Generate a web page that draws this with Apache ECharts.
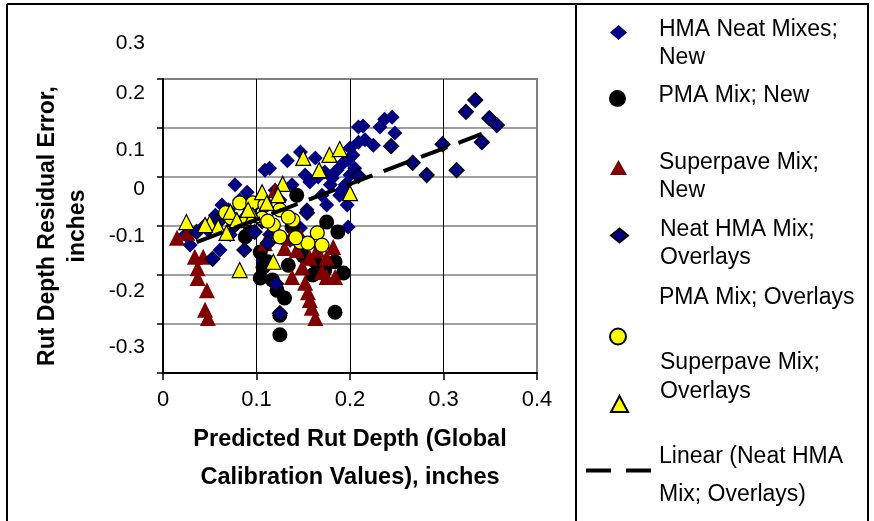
<!DOCTYPE html>
<html>
<head>
<meta charset="utf-8">
<script src="https://cdn.jsdelivr.net/npm/echarts@6/dist/echarts.min.js"></script>
<style>
  html, body { margin: 0; padding: 0; background: #fff; }
  #chart { width: 874px; height: 521px; }
</style>
</head>
<body>
<div id="chart"></div>
<script>
// [predicted rut depth, residual error] in inches
const hmaNeatNew = [
  [0.045,0.002],[0.050,-0.012],[0.056,0.022],[0.063,0.043],[0.070,0.033],[0.077,0.084],
  [0.082,0.053],[0.090,0.069],[0.093,0.033],[0.098,0.043],[0.109,0.114],[0.114,0.118],
  [0.120,0.073],[0.125,0.053],[0.133,0.133],[0.138,0.084],[0.147,0.151],[0.152,0.104],
  [0.157,0.090],[0.163,0.139],[0.166,0.100],[0.170,0.063],[0.173,0.110],[0.179,0.084],
  [0.181,0.098],[0.186,0.114],[0.189,0.063],[0.193,0.129],[0.195,0.084],[0.198,0.135],
  [0.200,0.104],[0.203,0.145],[0.205,0.118],[0.209,0.202],[0.209,0.171],[0.200,0.159],
  [0.214,0.204],[0.216,0.176],[0.225,0.165],[0.232,0.202],[0.237,0.218],[0.245,0.222],
  [0.248,0.190],[0.191,0.073],[0.197,0.043],[0.175,0.043],[0.154,0.033],[0.198,-0.002],
  [0.147,-0.004],[0.136,-0.029],[0.114,-0.018],[0.106,0.008],[0.072,-0.018],[0.061,-0.049],
  [0.024,-0.018],[0.029,-0.039],[0.107,-0.071],[0.127,-0.024]
];
const pmaNew = [
  [0.143,0.063],[0.175,0.008],[0.187,-0.012],[0.184,-0.073],[0.193,-0.096],[0.184,-0.176],
  [0.125,-0.222],[0.125,-0.182],[0.130,-0.147],[0.122,-0.131],[0.104,-0.106],[0.107,-0.084],
  [0.104,-0.053],[0.088,-0.022],[0.160,-0.100],[0.163,-0.073],[0.138,-0.002],[0.117,-0.110],
  [0.150,-0.061],[0.134,-0.080],[0.112,-0.073],[0.173,-0.090],[0.093,-0.012]
];
const superpaveNew = [
  [0.015,-0.024],[0.026,-0.014],[0.034,-0.063],[0.043,-0.063],[0.037,-0.086],[0.037,-0.106],
  [0.047,-0.131],[0.045,-0.171],[0.048,-0.188],[0.138,-0.104],[0.149,-0.084],[0.152,-0.116],
  [0.155,-0.135],[0.157,-0.151],[0.159,-0.167],[0.163,-0.188],[0.170,-0.094],[0.175,-0.104],
  [0.184,-0.104],[0.182,-0.043],[0.175,-0.065],[0.157,-0.065],[0.143,-0.049],[0.136,-0.024],
  [0.165,-0.049],[0.120,0.073],[0.109,-0.035],[0.130,-0.045],[0.147,-0.020],[0.168,-0.029]
];
const neatHmaOverlays = [
  [0.209,0.102],[0.244,0.163],[0.267,0.129],[0.282,0.104],[0.299,0.167],[0.314,0.114],
  [0.324,0.233],[0.334,0.257],[0.349,0.220],[0.357,0.206],[0.341,0.171],[0.036,-0.012],
  [0.053,-0.067],[0.087,-0.049],[0.112,-0.035],[0.121,-0.118],[0.125,-0.178],[0.154,0.027],
  [0.059,0.008],[0.077,0.002],[0.098,-0.012]
];
const pmaOverlays = [
  [0.082,0.047],[0.096,0.047],[0.109,0.043],[0.125,0.033],[0.139,0.012],[0.118,0.002],
  [0.125,-0.022],[0.147,-0.033],[0.155,-0.035],[0.165,-0.014],[0.170,-0.039],[0.134,0.018],
  [0.067,0.027],[0.073,0.016],[0.106,0.016],[0.112,0.010],[0.093,0.022],[0.088,0.012],
  [0.142,-0.024]
];
const superpaveOverlays = [
  [0.150,0.139],[0.167,0.114],[0.178,0.145],[0.189,0.157],[0.128,0.086],[0.123,0.063],
  [0.106,0.069],[0.200,0.067],[0.082,-0.090],[0.118,-0.073],[0.050,0.006],[0.059,-0.002],
  [0.068,-0.014],[0.072,0.029],[0.086,0.016],[0.096,0.022],[0.111,0.047],[0.045,0.002],
  [0.025,0.008],[0.079,0.012],[0.091,0.033]
];
// linear fit through the neat HMA overlay points
const linearFit = [[0.036,-0.033],[0.341,0.188]];

const seriesNames = [
  'HMA Neat Mixes; New',
  'PMA Mix; New',
  'Superpave Mix; New',
  'Neat HMA Mix; Overlays',
  'PMA Mix; Overlays',
  'Superpave Mix; Overlays',
  'Linear (Neat HMA Mix; Overlays)'
];
const legendLines = [
  ['HMA Neat Mixes;', 'New'],
  ['PMA Mix; New'],
  ['Superpave Mix;', 'New'],
  ['Neat HMA Mix;', 'Overlays'],
  ['PMA Mix; Overlays'],
  ['Superpave Mix;', 'Overlays'],
  ['Linear (Neat HMA', 'Mix; Overlays)']
];
const xTickLabels = ['0', '0.1', '0.2', '0.3', '0.4'];
const yTickLabels = ['-0.3', '-0.2', '-0.1', '0', '0.1', '0.2', '0.3'];

const FONT = "'Liberation Sans', Arial, sans-serif";
// the value labels on the left sit above their grid lines by these amounts
const yLabelLift = [26, 33, 39, 37, 27, 35, 36];
const yRich = {};
yLabelLift.forEach((s, i) => {
  yRich['t' + i] = { fontSize: 21, fontFamily: FONT, color: '#000', padding: [0, 0, 2 * s, 0] };
});

// one legend block per entry: [left, top, iconW, iconH, lineHeight, padTop, padBottom, padLeft]
const legendLayout = [
  [610, 18, 17, 15, 28, 22, 0, 27],
  [609, 84, 18, 17, 28, 0, 6, 27],
  [610, 151, 17, 15, 28, 18, 0, 27],
  [610, 218, 17, 14, 28, 16, 0, 27],
  [609, 286, 18, 16, 28, 0, 78, 27],
  [610, 351.5, 17, 16, 29, 0, 53, 27],
  [586, 445, 65, 4, 38, 10, 0, 3]
];
const legends = seriesNames.map((name, i) => {
  const [left, top, w, h, lh, pt, pb, pl] = legendLayout[i];
  const lines = legendLines[i];
  const n = lines.length;
  const rich = {};
  lines.forEach((_, k) => {
    rich['l' + k] = {
      fontSize: 23, fontFamily: FONT, color: '#000', height: lh,
      padding: [k === 0 ? pt : 0, 0, k === n - 1 ? pb : 0, pl]
    };
  });
  const lg = {
    data: [name],
    left: left, top: top,
    padding: 0,
    itemWidth: w, itemHeight: h,
    selectedMode: false,
    formatter: () => lines.map((t, k) => '{l' + k + '|' + t + '}').join('\n'),
    textStyle: { fontSize: 23, fontFamily: FONT, color: '#000', rich: rich }
  };
  if (i === 6) {
    lg.icon = 'path://M0,0L25,0L25,4L0,4ZM40,0L65,0L65,4L40,4Z';
  }
  return lg;
});

const chart = echarts.init(document.getElementById('chart'), null, { renderer: 'canvas' });
chart.setOption({
  backgroundColor: '#fff',
  animation: false,
  grid: {
    left: 163, top: 79, width: 374, height: 294,
    show: true, borderColor: '#808080', borderWidth: 2, backgroundColor: 'transparent'
  },
  legend: legends,
  xAxis: {
    type: 'value', min: 0, max: 0.4, interval: 0.1,
    name: 'Predicted Rut Depth (Global\nCalibration Values), inches',
    nameLocation: 'middle', nameGap: 48,
    nameTextStyle: { fontSize: 23.5, fontWeight: 'bold', fontFamily: FONT, color: '#000', lineHeight: 38 },
    axisLine: { show: true, onZero: false, lineStyle: { color: '#000', width: 2 } },
    axisTick: { show: true, length: 7, lineStyle: { color: '#000', width: 1.5 } },
    axisLabel: {
      margin: 16, fontSize: 22, fontFamily: FONT, color: '#000',
      formatter: v => xTickLabels[Math.round(v / 0.1)]
    },
    splitLine: { show: true, showMinLine: false, showMaxLine: false, lineStyle: { color: '#000', width: 1 } }
  },
  yAxis: {
    type: 'value', min: -0.3, max: 0.3, interval: 0.1,
    name: 'Rut Depth Residual Error,\ninches',
    nameLocation: 'middle', nameGap: 70, nameRotate: 90,
    nameTextStyle: { fontSize: 23, fontWeight: 'bold', fontFamily: FONT, color: '#000', lineHeight: 30 },
    axisLine: { show: true, onZero: false, lineStyle: { color: '#000', width: 2 } },
    axisTick: { show: true, length: 6, lineStyle: { color: '#000', width: 1.5 } },
    axisLabel: {
      margin: 18,
      formatter: v => {
        const i = Math.round((v + 0.3) / 0.1);
        return '{t' + i + '|' + yTickLabels[i] + '}';
      },
      rich: yRich
    },
    splitLine: { show: true, showMinLine: false, showMaxLine: false, lineStyle: { color: '#808080', width: 1.5 } }
  },
  series: [
    {
      name: seriesNames[0], type: 'scatter', data: hmaNeatNew,
      symbol: 'diamond', symbolSize: 15,
      itemStyle: { color: '#000080', borderWidth: 0, opacity: 1 }
    },
    {
      name: seriesNames[1], type: 'scatter', data: pmaNew,
      symbol: 'circle', symbolSize: 15,
      itemStyle: { color: '#000', borderWidth: 0, opacity: 1 }
    },
    {
      name: seriesNames[2], type: 'scatter', data: superpaveNew,
      symbol: 'triangle', symbolSize: [16, 16],
      itemStyle: { color: '#800000', borderWidth: 0, opacity: 1 }
    },
    {
      name: seriesNames[3], type: 'scatter', data: neatHmaOverlays,
      symbol: 'diamond', symbolSize: 15,
      itemStyle: { color: '#000080', borderColor: '#000', borderWidth: 1.2, opacity: 1 }
    },
    {
      name: seriesNames[4], type: 'scatter', data: pmaOverlays,
      symbol: 'circle', symbolSize: 14,
      itemStyle: { color: '#ffff00', borderColor: '#000', borderWidth: 1.2, opacity: 1 }
    },
    {
      name: seriesNames[5], type: 'scatter', data: superpaveOverlays,
      symbol: 'triangle', symbolSize: [15, 15],
      itemStyle: { color: '#ffff00', borderColor: '#000', borderWidth: 1.2, opacity: 1 }
    },
    {
      name: seriesNames[6], type: 'line', data: linearFit,
      symbol: 'none', silent: true,
      itemStyle: { color: '#000' },
      lineStyle: { color: '#000', width: 4, type: [28, 12] }
    }
  ],
  graphic: [
    // frame of the figure cell and the legend cell
    { type: 'line', shape: { x1: 7, y1: 4, x2: 869, y2: 4 }, style: { stroke: '#000', lineWidth: 2 } },
    { type: 'line', shape: { x1: 7, y1: 4, x2: 7, y2: 521 }, style: { stroke: '#000', lineWidth: 2 } },
    { type: 'line', shape: { x1: 576, y1: 4, x2: 576, y2: 521 }, style: { stroke: '#000', lineWidth: 2 } },
    { type: 'line', shape: { x1: 868, y1: 4, x2: 868, y2: 521 }, style: { stroke: '#000', lineWidth: 2 } }
  ]
});
</script>
</body>
</html>
